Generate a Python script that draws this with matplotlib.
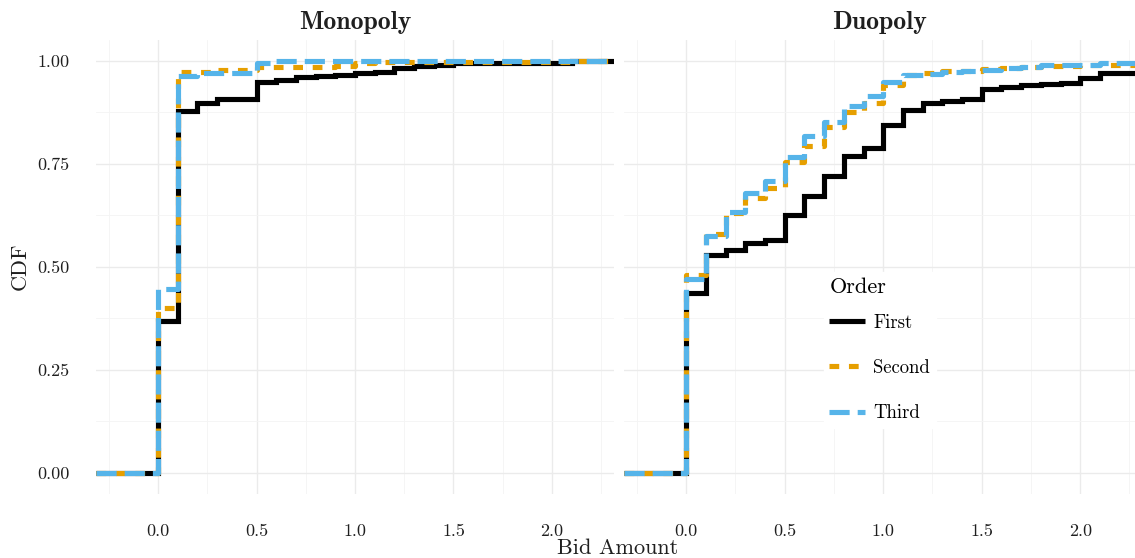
"""
bid_cdf.py — Empirical CDF of bid amounts by bidding order, Monopoly vs Duopoly.

Saves out.png (1135x558).
"""

from __future__ import annotations

import matplotlib

matplotlib.use("Agg")
import matplotlib.pyplot as plt
from matplotlib.lines import Line2D

# ---------------------------------------------------------------------------
# Data
# ---------------------------------------------------------------------------

BID_GRID = [0.0, 0.1, 0.2, 0.3, 0.4, 0.5, 0.6, 0.7, 0.8, 0.9, 1.0, 1.1,
            1.2, 1.3, 1.4, 1.5, 1.6, 1.7, 1.8, 1.9, 2.0, 2.1, 2.2]

MONO_FIRST = [0.368, 0.877, 0.896, 0.908, 0.908, 0.947, 0.954, 0.961, 0.963,
              0.966, 0.971, 0.973, 0.983, 0.988, 0.990, 0.993, 0.993, 0.993,
              0.993, 0.993, 0.993, 1.000, 1.000]
MONO_SECOND = [0.400, 0.973, 0.973, 0.978, 0.978, 0.985, 0.985, 0.985, 0.985,
               0.988, 0.995, 0.997, 0.997, 0.997, 0.997, 0.997, 0.997, 0.997,
               0.997, 0.997, 0.997, 1.000, 1.000]
MONO_THIRD = [0.445, 0.963, 0.970, 0.970, 0.970, 0.995, 1.000, 1.000, 1.000,
              1.000, 1.000, 1.000, 1.000, 1.000, 1.000, 1.000, 1.000, 1.000,
              1.000, 1.000, 1.000, 1.000, 1.000]

DUO_FIRST = [0.436, 0.528, 0.540, 0.557, 0.566, 0.625, 0.671, 0.719, 0.768,
             0.787, 0.845, 0.879, 0.896, 0.903, 0.908, 0.932, 0.935, 0.942,
             0.944, 0.946, 0.959, 0.971, 0.971]
DUO_SECOND = [0.479, 0.579, 0.630, 0.666, 0.692, 0.753, 0.792, 0.838, 0.876,
              0.898, 0.940, 0.965, 0.970, 0.975, 0.975, 0.980, 0.983, 0.985,
              0.988, 0.988, 0.990, 0.990, 0.990]
DUO_THIRD = [0.470, 0.574, 0.632, 0.678, 0.707, 0.765, 0.816, 0.852, 0.891,
             0.913, 0.947, 0.964, 0.967, 0.973, 0.976, 0.978, 0.983, 0.985,
             0.990, 0.990, 0.990, 0.993, 0.995]

ORDERS = ["First", "Second", "Third"]
PANELS = ["Monopoly", "Duopoly"]

X_TICKS = [0.0, 0.5, 1.0, 1.5, 2.0]
X_TICK_LABELS = ["0.0", "0.5", "1.0", "1.5", "2.0"]
Y_TICKS = [0.0, 0.25, 0.5, 0.75, 1.0]
Y_TICK_LABELS = ["0.00", "0.25", "0.50", "0.75", "1.00"]

# ---------------------------------------------------------------------------
# Styling
# ---------------------------------------------------------------------------

COLORS = {"First": "#000000", "Second": "#E69F00", "Third": "#56B4E9"}
DASHES = {"First": None, "Second": (7.0, 7.0), "Third": (14.5, 5.8)}
LINE_W = 3.7
TEXT_COLOR = "#1f1f1f"
GRID_MAJOR = "#EBEBEB"
GRID_MINOR = "#F4F4F4"

plt.rcParams["font.family"] = ["cmr10", "DejaVu Serif"]
plt.rcParams["axes.unicode_minus"] = False
plt.rcParams["lines.scale_dashes"] = False


def _style_panel(ax, xlim, show_y):
    ax.set_xlim(*xlim)
    ax.set_ylim(-0.05, 1.05)
    for side in ax.spines.values():
        side.set_visible(False)
    ax.set_xticks(X_TICKS)
    ax.set_xticklabels(X_TICK_LABELS)
    ax.set_yticks(Y_TICKS)
    ax.set_yticklabels(Y_TICK_LABELS if show_y else [])
    ax.set_xticks([-0.25, 0.25, 0.75, 1.25, 1.75, 2.25], minor=True)
    ax.set_yticks([0.125, 0.375, 0.625, 0.875], minor=True)
    ax.tick_params(which="both", length=0, labelsize=13, colors=TEXT_COLOR, pad=22)
    ax.tick_params(axis="y", pad=19)
    ax.grid(True, which="major", color=GRID_MAJOR, linewidth=1.0)
    ax.grid(True, which="minor", color=GRID_MINOR, linewidth=0.6)
    ax.set_axisbelow(True)


def _draw_cdfs(ax, series, xlim):
    for order, vals in zip(ORDERS, series):
        xs = [xlim[0]] + BID_GRID + [xlim[1]]
        ys = [0.0] + vals + [vals[-1]]
        line, = ax.plot(xs, ys, drawstyle="steps-post", color=COLORS[order],
                        linewidth=LINE_W, solid_capstyle="butt",
                        dash_capstyle="butt", solid_joinstyle="miter")
        if DASHES[order] is not None:
            line.set_dashes(DASHES[order])


def main() -> None:
    fig = plt.figure(figsize=(11.35, 5.58), dpi=100)
    ax_m = fig.add_axes([96 / 1135, 64.5 / 558, 518 / 1135, 453.5 / 558])
    ax_d = fig.add_axes([624 / 1135, 64.5 / 558, 511 / 1135, 453.5 / 558])

    xlim_m = (-0.315, 2.315)
    xlim_d = (-0.316, 2.278)

    _draw_cdfs(ax_m, [MONO_FIRST, MONO_SECOND, MONO_THIRD], xlim_m)
    _draw_cdfs(ax_d, [DUO_FIRST, DUO_SECOND, DUO_THIRD], xlim_d)
    _style_panel(ax_m, xlim_m, True)
    _style_panel(ax_d, xlim_d, False)

    for ax, name in zip([ax_m, ax_d], PANELS):
        ax.set_title(name, family=["cmb10", "DejaVu Serif"], fontsize=18.5,
                     color=TEXT_COLOR, pad=8)

    fig.text(20 / 1135, 1 - 266 / 558, "CDF", rotation=90, ha="center",
             va="center", fontsize=16, color=TEXT_COLOR)
    fig.text(618 / 1135, 1 - 548 / 558, "Bid Amount", ha="center",
             va="center", fontsize=16, color=TEXT_COLOR)

    handles = []
    for order in ORDERS:
        h = Line2D([], [], color=COLORS[order], linewidth=LINE_W,
                   solid_capstyle="butt", dash_capstyle="butt")
        if DASHES[order] is not None:
            h.set_dashes(DASHES[order])
        handles.append(h)
    leg = ax_d.legend(handles, ORDERS, title="Order", loc="upper left",
                      bbox_to_anchor=(0.391, 0.488), borderaxespad=0,
                      frameon=True, fancybox=False, fontsize=13.5,
                      title_fontsize=16, handlelength=1.9, handletextpad=0.45,
                      labelspacing=1.45, borderpad=0.3, alignment="left")
    leg.get_frame().set_facecolor("white")
    leg.get_frame().set_edgecolor("white")
    leg.get_frame().set_alpha(1.0)
    # gap between the "Order" title and the first entry
    leg._legend_box.sep = 12

    fig.savefig("out.png", dpi=100)
    plt.close(fig)


if __name__ == "__main__":
    main()
